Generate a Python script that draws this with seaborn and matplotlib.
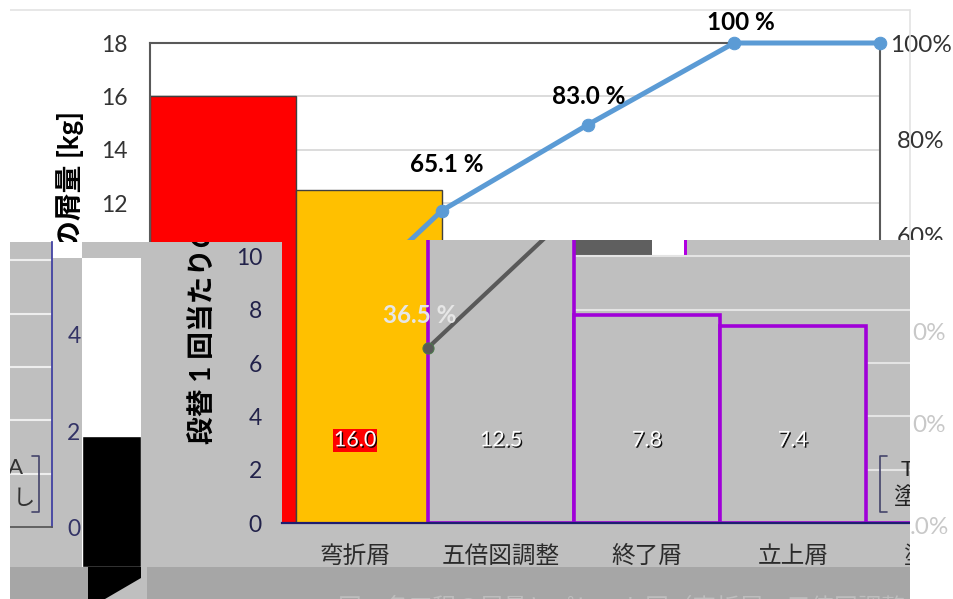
import numpy as np
import pandas as pd
import seaborn as sns
import matplotlib.pyplot as plt
from matplotlib.patches import Rectangle, Polygon
from matplotlib.lines import Line2D
import matplotlib.patheffects as pe

# data
categories = ["弯折屑", "五倍図調整", "終了屑", "立上屑", "塗装屑"]
amounts = [16.0, 12.5, 7.8, 7.4, 0.0]
cum_pct = [36.5, 65.1, 83.0, 100.0, 100.0]
value_labels = ["16.0", "12.5", "7.8", "7.4", ""]
kg_ticks = [0, 2, 4, 6, 8, 10, 12, 14, 16, 18]
pct_ticks = [0, 20, 40, 60, 80, 100]
left_ticks = [0, 2, 4]
left_bar = [1.9]
ylabel_txt = "段替 1 回当たりの屑量 [kg]"
caption = "図　各工程の屑量とパレート図（弯折屑・五倍図調整・終了屑）"

sns.set_theme(style="white")
plt.rcParams['font.family'] = ['Lato', 'Noto Sans CJK JP', 'DejaVu Sans']

W, H = 954, 599
fig = plt.figure(figsize=(W / 100, H / 100), dpi=100)
fig.patch.set_facecolor("white")


def box(l, t, r, b):
    return [l / W, 1 - b / H, (r - l) / W, (b - t) / H]


def rect(l, t, r, b, color, z, **kw):
    p = Rectangle((l / W, 1 - b / H), (r - l) / W, (b - t) / H, transform=fig.transFigure,
                  facecolor=color, edgecolor="none", zorder=z, **kw)
    fig.add_artist(p)
    return p


def px2pt(v):
    return v * 72 / 100


df = pd.DataFrame({"cat": categories, "kg": amounts})
xs = np.arange(len(categories)) + 0.5
pct = np.array(cum_pct) / 100
lab_off = [(-8, 32), (5, 46), (1, 28), (7, 21)]  # label offsets in px (x, up)

# clip regions
top_clip = Rectangle((0, 1 - 240 / H), 1, 240 / H, transform=fig.transFigure)
band_clip = Rectangle((10 / W, 1 - 567 / H), 900 / W, (567 - 242) / H, transform=fig.transFigure)

############################
# Upper (clean) pareto chart
############################
ax1 = fig.add_axes(box(150, 43, 880, 523))
ax1.set_zorder(1)
sns.barplot(data=df, x="cat", y="kg", hue="cat", palette=["#FF0000", "#FFC000", "#595959", "#A5A5A5", "#D9D9D9"],
            saturation=1, width=1.0, edgecolor="#404040", linewidth=1, legend=False, ax=ax1)
ax1.set_xlim(-0.5, 4.5)
ax1.set_ylim(0, 18)
ax1.set_yticks(kg_ticks)
ax1.yaxis.grid(True, color="#D9D9D9", lw=1.3)
ax1.set_axisbelow(True)
ax1.tick_params(axis="y", labelsize=16.5, length=0, pad=16, labelcolor="#333333")
ax1.tick_params(axis="x", length=0)
ax1.set_xlabel("")
ax1.set_ylabel("")
for s in ["top", "left", "right"]:
    ax1.spines[s].set_color("#595959")
    ax1.spines[s].set_linewidth(1.5)

ax1r = ax1.twinx()
ax1r.set_zorder(1.1)
sns.lineplot(x=xs, y=pct, ax=ax1r, color="#5B9BD5", lw=3.6, marker="o", markersize=9,
             markeredgecolor="#5B9BD5")
ax1r.set_ylim(0, 1.0)
ax1r.set_xlim(-0.5, 4.5)
ax1r.set_yticks(np.array(pct_ticks) / 100)
# the three lowest labels lie under the glitch band; their fragments are drawn further down
ax1r.set_yticklabels([f"{p}%" if p >= 60 else "" for p in pct_ticks], ha="center")
ax1r.tick_params(axis="y", labelsize=17.5, length=0, pad=px2pt(41), labelcolor="#333333")
ax1r.set_ylabel("")
for s in ax1r.spines.values():
    s.set_visible(False)
for ln in ax1r.lines:
    ln.set_clip_path(top_clip)
for i, (dx, dy) in enumerate(lab_off):
    t = "100 %" if cum_pct[i] == 100 else f"{cum_pct[i]:.1f} %"
    a = ax1r.annotate(t, xy=(xs[i], pct[i]), xytext=(px2pt(dx), px2pt(dy)), textcoords="offset points",
                      ha="center", va="center", fontsize=17.5, fontweight="bold", color="black")
    a.set_clip_path(top_clip)

fig.text(70 / W, 1 - 278 / H, ylabel_txt, rotation=90, ha="center", va="center",
         fontsize=20, fontweight="bold", color="black", zorder=1.5)

# outer chart border
fig.add_artist(Line2D([10 / W, 910 / W], [1 - 10 / H, 1 - 10 / H], color="#E3E3E3", lw=1.2, zorder=1.6))
fig.add_artist(Line2D([910 / W, 910 / W], [1 - 10 / H, 1 - 240 / H], color="#E3E3E3", lw=1.2, zorder=1.6))

############################
# grey shifted copy (glitch band)
############################
rect(10, 242, 282, 567, "#BFBFBF", 2)
rect(52, 242, 82, 258, "white", 2.05)
rect(282, 523, 428, 567, "#BFBFBF", 2)
rect(428, 240, 910, 567, "#BFBFBF", 2)
rect(572, 240, 652, 255, "#5F5F5F", 2.1)
rect(652, 240, 685, 255, "white", 2.1)
rect(684, 240, 687, 255, "#B000E0", 2.2)

ax2 = fig.add_axes(box(282, 240, 1012, 523))
ax2.set_zorder(3)
ax2.patch.set_visible(False)
sns.barplot(data=df, x="cat", y="kg", color="#BFBFBF", saturation=1, width=1.0,
            edgecolor="#A000D8", linewidth=2.6, ax=ax2)
ax2.patches[0].set_visible(False)
ax2.set_xlim(-0.5, 4.5)
ax2.set_ylim(0, 283 / (480 / 18))
ax2.set_yticks(kg_ticks[:6])
ax2.hlines(kg_ticks[1:6], 0.5, 4.5, color="#E4E4E4", lw=1.5, zorder=0.5)
ax2.tick_params(axis="y", labelsize=16.5, length=0, pad=px2pt(20), labelcolor="#22224A")
ax2.tick_params(axis="x", labelsize=17, length=0, pad=px2pt(22), labelcolor="#2B2B2B")
ax2.set_xlabel("")
ax2.set_ylabel("")
for s in ["top", "left", "right"]:
    ax2.spines[s].set_visible(False)
ax2.spines["bottom"].set_color("#1E1E70")
ax2.spines["bottom"].set_linewidth(1.6)
for i, lab in enumerate(value_labels):
    if not lab:
        continue
    kw = {}
    if i == 0:
        kw["bbox"] = dict(facecolor="#FF0000", edgecolor="none", pad=1)
    ax2.text(i, 3.1, lab, ha="center", va="center", fontsize=15.5, color="white",
             path_effects=[pe.withSimplePatchShadow(offset=(1, -1), shadow_rgbFace="black", alpha=0.9)], **kw)

ax2r = ax2.twinx()
ax2r.set_zorder(3.1)
sns.lineplot(x=xs, y=pct, ax=ax2r, color="#595959", lw=3, marker="o", markersize=8,
             markeredgecolor="#4C7A4C")
ax2r.set_xlim(-0.5, 4.5)
ax2r.set_ylim(0, 283 / 480)
ax2r.set_axis_off()
for i, (dx, dy) in enumerate(lab_off):
    t = "100 %" if cum_pct[i] == 100 else f"{cum_pct[i]:.1f} %"
    ax2r.annotate(t, xy=(xs[i], pct[i]), xytext=(px2pt(dx), px2pt(dy)), textcoords="offset points",
                  ha="center", va="center", fontsize=17.5, fontweight="bold", color="#E6E6E6",
                  annotation_clip=True)

yl2 = fig.text(202 / W, 1 - 278 / H, ylabel_txt, rotation=90, ha="center", va="center",
               fontsize=20, fontweight="bold", color="black", zorder=3.2)
yl2.set_clip_path(band_clip)

# left fragments
ax4 = fig.add_axes(box(10, 242, 52, 527))
ax4.set_zorder(3)
ax4.set_facecolor("#BFBFBF")
ax4.set_ylim(0, 285 / (480 / 18))
ax4.set_xticks([])
ax4.set_yticks(kg_ticks[1:6])
ax4.yaxis.grid(True, color="#EEEEEE", lw=1.5)
ax4.tick_params(axis="y", length=0, labelleft=False)
for s in ["top", "left"]:
    ax4.spines[s].set_visible(False)
ax4.spines["right"].set_color("#3C3CA0")
ax4.spines["bottom"].set_color("#555555")

ax3 = fig.add_axes(box(82, 258, 141, 567))
ax3.set_zorder(3)
ax3.set_facecolor("white")
lo, hi = -40 / 48, 269 / 48
ax3.bar([0], [v - lo for v in left_bar], bottom=lo, width=1.0, color="black")
ax3.set_xlim(-0.5, 0.5)
ax3.set_ylim(lo, hi)
ax3.set_xticks([])
ax3.set_yticks(left_ticks)
ax3.tick_params(axis="y", labelsize=16.5, length=0, pad=1, labelcolor="#333366")
for s in ax3.spines.values():
    s.set_visible(False)

fig.text(16 / W, 1 - 468 / H, "A", ha="center", va="center", fontsize=16, color="#333333", zorder=3.5)
fig.text(24 / W, 1 - 498 / H, "し", ha="center", va="center", fontsize=16, color="#333333", zorder=3.5)
fig.add_artist(Line2D(np.array([32, 39, 39, 32]) / W, 1 - np.array([456, 456, 512, 512]) / H,
                      color="#44446A", lw=1.2, zorder=3.5))
fig.add_artist(Line2D(np.array([887, 880, 880, 887]) / W, 1 - np.array([456, 456, 512, 512]) / H,
                      color="#44446A", lw=1.2, zorder=3.5))
fig.text(907 / W, 1 - 470 / H, "T", ha="center", va="center", fontsize=16, color="#222222", zorder=3.5)
fig.text(906 / W, 1 - 497 / H, "塗", ha="center", va="center", fontsize=17, color="#222222", zorder=3.5)

# bottom strip
rect(10, 567, 910, 600, "#A6A6A6", 4)
rect(88, 567, 147, 600, "#BFBFBF", 4.1)
fig.add_artist(Polygon(np.column_stack([np.array([88, 141, 141, 105, 88]) / W,
                                        1 - np.array([567, 567, 578, 599, 599]) / H]),
                       closed=True, transform=fig.transFigure, facecolor="black", edgecolor="none", zorder=4.2))
fig.text(680 / W, 1 - 607 / H, caption, ha="center", va="center", fontsize=17, color="#BDBDBD", zorder=4.3)

# white margins
rect(910, 240, 954, 600, "white", 4.5)
rect(0, 0, 10, 600, "white", 4.6)
for y, t in [(333, "0%"), (426, "0%"), (527, ".0%")]:
    fig.text(929 / W, 1 - y / H, t, ha="center", va="center", fontsize=17.5, color="#C8C8C8", zorder=5)

fig.savefig("out.png", dpi=100)
